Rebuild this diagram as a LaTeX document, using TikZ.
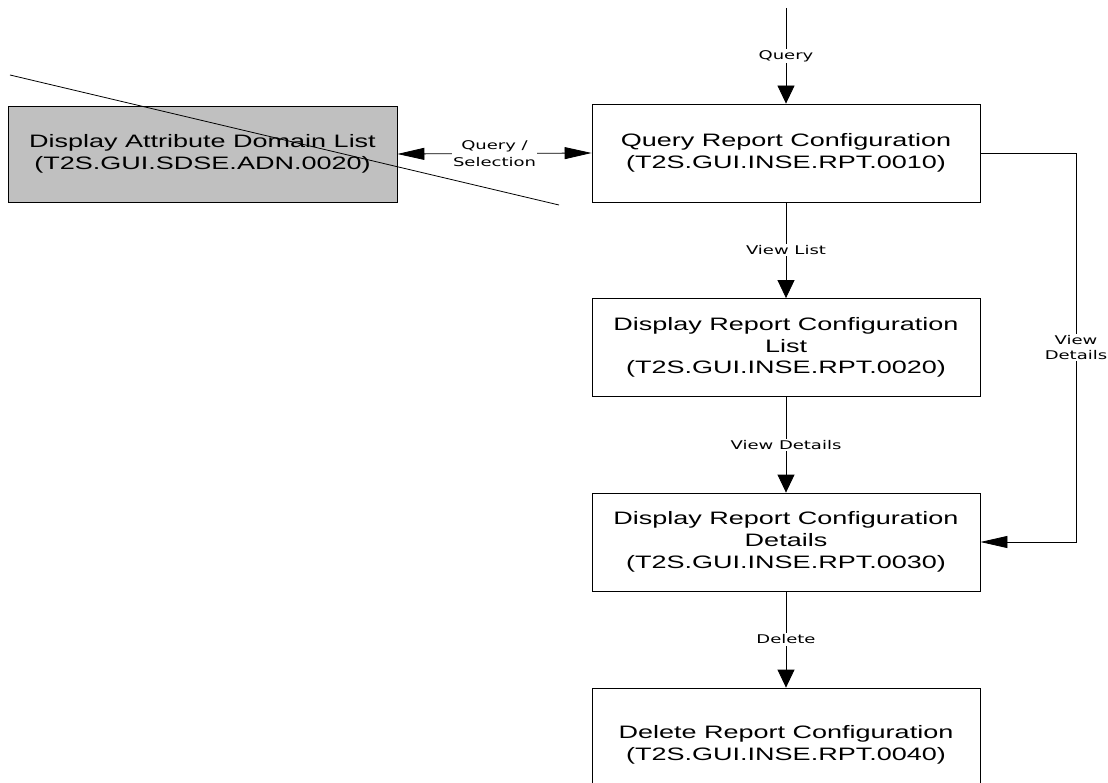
\documentclass[tikz,border=0pt]{standalone}
\usepackage{fontspec}
\setmainfont{Liberation Sans}[FakeStretch=1.5]
\newfontfamily\lblfont{DejaVu Sans}[FakeStretch=1.5]
\usetikzlibrary{arrows.meta}
\definecolor{boxgray}{RGB}{192,192,192}
\tikzset{
  box/.style={draw, line width=0.8pt, minimum width=388pt, minimum height=98pt,
    align=center, inner sep=0pt, font=\fontsize{18}{21.7}\selectfont},
  lbl/.style={fill=white, inner sep=1.5pt, align=center,
    font=\lblfont\fontsize{12}{15}\selectfont},
  conn/.style={line width=0.8pt},
  vtip/.style={conn, -{Triangle[length=18pt,width=17pt]}},
  htip/.style={conn, -{Triangle[length=27pt,width=12pt]}},
  hboth/.style={conn, {Triangle[length=27pt,width=12pt]}-{Triangle[length=27pt,width=12pt]}}
}
\begin{document}
\begin{tikzpicture}[x=1pt,y=-1pt]
\useasboundingbox (0,0) rectangle (1108,783);
\clip (0,0) rectangle (1108,783);
\node[box, fill=boxgray, minimum width=389pt, minimum height=96pt] (g) at (202.5,154)
  {Display Attribute Domain List\\(T2S.GUI.SDSE.ADN.0020)};
\node[box] (q) at (786,153) {Query Report Configuration\\(T2S.GUI.INSE.RPT.0010)};
\node[box] (l) at (786,347.5) {Display Report Configuration\\List\\(T2S.GUI.INSE.RPT.0020)};
\node[box] (d) at (786,542) {Display Report Configuration\\Details\\(T2S.GUI.INSE.RPT.0030)};
\node[box, minimum height=114pt] (x) at (786,745) {Delete Report Configuration\\(T2S.GUI.INSE.RPT.0040)};
\coordinate (top) at (786,8);
\coordinate (rx) at (1076,0);
\coordinate (s1) at (10,75);
\coordinate (s2) at (559,205);
\draw[vtip] (top) -- (q.north) node[lbl, midway] {Query};
\draw[hboth] (g.east) -- (q.west) node[lbl, midway, font=\lblfont\fontsize{12}{17}\selectfont] {Query /\\Selection};
\draw[vtip] (q.south) -- (l.north) node[lbl, midway] {View List};
\draw[vtip] (l.south) -- (d.north) node[lbl, midway] {View Details};
\draw[vtip] (d.south) -- (x.north) node[lbl, midway] {Delete};
\draw[htip] (q.east) -- (q.east -| rx) -- (d.east -| rx) node[lbl, midway] {View\\Details} -- (d.east);
\draw[conn] (s1) -- (s2);
\end{tikzpicture}
\end{document}
